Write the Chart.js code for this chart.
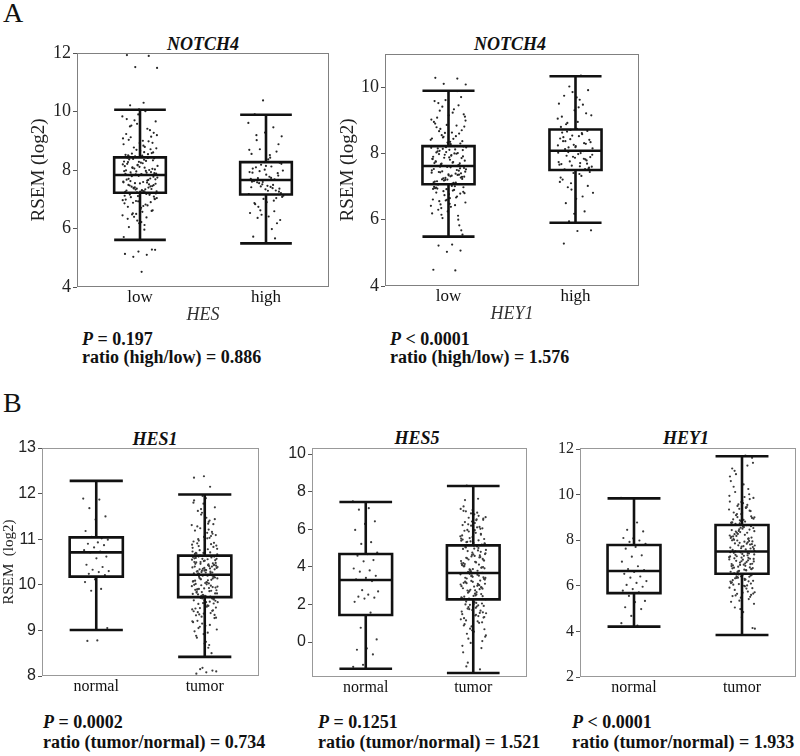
<!DOCTYPE html>
<html><head><meta charset="utf-8">
<script src="https://cdn.jsdelivr.net/npm/chart.js@4.4.0/dist/chart.umd.min.js"></script>
<style>
body{margin:0;background:#fff;width:800px;height:756px;position:relative;overflow:hidden;}
canvas{position:absolute;}
.t{position:absolute;white-space:nowrap;color:#111;font-family:"Liberation Serif",serif;}
.ttl{font-weight:bold;font-style:italic;font-size:18px;line-height:18px;transform:translateX(-50%);}
.st{font-weight:bold;font-size:18px;line-height:18px;}
.pl{font-size:28px;line-height:28px;}
</style></head><body>
<div class="t pl" style="left:3px;top:-1px">A</div>
<div class="t pl" style="left:3px;top:389px">B</div>
<div class="t ttl" style="left:203px;top:35px">NOTCH4</div>
<div class="t ttl" style="left:510px;top:35px">NOTCH4</div>
<div class="t ttl" style="left:155px;top:430px">HES1</div>
<div class="t ttl" style="left:417px;top:429px">HES5</div>
<div class="t ttl" style="left:686px;top:429px">HEY1</div>
<div class="t st" style="left:82px;top:330px"><i>P</i> = 0.197</div>
<div class="t st" style="left:82px;top:348px">ratio (high/low) = 0.886</div>
<div class="t st" style="left:390px;top:330px"><i>P</i> &lt; 0.0001</div>
<div class="t st" style="left:390px;top:348px">ratio (high/low) = 1.576</div>
<div class="t st" style="left:43px;top:713px"><i>P</i> = 0.0002</div>
<div class="t st" style="left:43px;top:733px">ratio (tumor/normal) = 0.734</div>
<div class="t st" style="left:318px;top:713px"><i>P</i> = 0.1251</div>
<div class="t st" style="left:318px;top:733px">ratio (tumor/normal) = 1.521</div>
<div class="t st" style="left:572px;top:713px"><i>P</i> &lt; 0.0001</div>
<div class="t st" style="left:572px;top:733px">ratio (tumor/normal) = 1.933</div>
<canvas id="cA1"></canvas>
<canvas id="cA2"></canvas>
<canvas id="cB1"></canvas>
<canvas id="cB2"></canvas>
<canvas id="cB3"></canvas>
<script>
// ---------- Panel A left: NOTCH4 by HES ----------
const A1_cats = ['low','high'];
const A1_yticks = [4,6,8,10,12];
const A1_lo  = [5.61, 5.49];
const A1_q1  = [7.22, 7.16];
const A1_med = [7.83, 7.66];
const A1_q3  = [8.43, 8.27];
const A1_hi  = [10.06, 9.89];
const A1_low = [9.83,8.61,9.12,8.93,10.07,8.52,9.41,8.77,9.66,8.49,9.03,8.71,9.58,8.88,10.01,8.56,9.27,8.66,9.74,8.98,8.47,9.19,8.83,9.49,8.58,9.9,
 8.13,7.91,8.38,8.02,7.86,8.27,8.44,7.95,8.19,8.08,7.84,8.33,8.11,7.99,8.41,8.05,7.88,8.23,8.36,7.93,8.16,8.29,7.97,8.09,8.4,7.83,8.21,
 7.51,7.33,7.74,7.28,7.62,7.45,7.8,7.25,7.57,7.39,7.68,7.31,7.49,7.71,7.36,7.6,7.23,7.43,7.77,7.54,7.3,7.66,7.41,7.27,7.59,7.47,7.35,
 7.11,6.86,7.18,6.52,7.02,6.71,6.33,7.15,6.94,6.45,5.96,7.07,6.62,6.18,6.99,6.79,6.4,7.2,6.57,6.05,6.9,6.27,5.71,6.82,6.48,7.09,6.66,
 11.93,11.9,11.52,11.49,10.3,10.21,5.28,5.21,5.13,5.1,5.03,5.27,4.52,
 8.5,9.36,8.69,9.08,8.79,9.52,8.6,8.92,9.23,8.54,9.7,8.74,9.0,8.46,9.14,
 8.18,7.96,8.31,8.07,7.89,8.25,8.42,8.0,7.85,8.14,8.35,7.92,8.04,8.28,7.87,
 7.64,7.37,7.53,7.29,7.7,7.44,7.24,7.58,7.34,7.79,7.48,7.26,7.67,7.4,7.55,
 7.04,6.77,7.16,6.6,6.93,7.12,6.38,6.88,7.0,6.22,6.74,7.19,6.5,6.97,6.12];
const A1_high = [9.61,8.42,9.02,8.88,9.28,8.55,9.46,8.71,9.15,8.36,9.9,8.63,10.38,
 7.93,8.12,7.72,8.25,7.84,8.05,7.68,8.18,7.98,7.77,8.09,7.89,8.27,7.7,
 7.38,7.55,7.21,7.46,7.62,7.3,7.51,7.18,7.42,7.58,7.26,7.34,7.6,
 6.95,6.62,7.08,6.41,6.83,6.18,7.01,6.53,5.98,6.74,6.29,6.9,5.72,5.66,6.47,7.12,
 8.51,9.19,7.81,8.01,7.41,7.49,7.96,8.21,7.29,6.87,7.04,7.59,8.69,7.73,6.36,7.36,8.14,7.91,6.59,7.44];

// ---------- Panel A right: NOTCH4 by HEY1 ----------
const A2_cats = ['low','high'];
const A2_yticks = [4,6,8,10];
const A2_lo  = [5.49, 5.91];
const A2_q1  = [7.07, 7.5];
const A2_med = [7.62, 8.08];
const A2_q3  = [8.22, 8.72];
const A2_hi  = [9.89, 10.33];
const A2_low = [8.41,9.23,8.67,9.7,8.33,8.95,8.52,9.41,8.81,8.28,9.08,8.6,9.61,8.45,9.33,8.74,8.37,9.15,8.9,9.88,8.5,8.99,8.63,9.52,8.3,8.86,
 7.9,8.12,7.69,8.21,7.81,8.03,7.65,7.96,8.17,7.74,8.08,7.86,8.24,7.71,7.99,8.14,7.78,7.93,8.06,7.64,8.19,7.84,8.0,7.67,8.1,7.88,7.76,
 7.35,7.18,7.52,7.09,7.44,7.27,7.59,7.13,7.39,7.22,7.56,7.31,7.07,7.48,7.2,7.42,7.11,7.6,7.29,7.37,7.15,7.5,7.25,7.45,7.33,7.06,7.55,
 6.92,6.61,7.01,6.35,6.84,6.48,6.97,6.12,6.74,6.42,6.88,6.56,5.68,6.25,6.99,6.67,6.05,6.8,6.39,6.94,5.83,6.58,6.19,6.9,6.46,5.55,6.77,
 10.28,10.26,10.1,10.08,5.25,5.22,5.07,5.03,4.49,4.47,
 8.55,9.18,8.35,8.79,9.45,8.62,9.02,8.44,9.29,8.7,8.31,9.58,8.84,8.48,9.11,
 7.95,8.15,7.7,8.04,7.83,8.22,7.66,7.91,8.11,7.75,8.01,7.87,8.18,7.72,7.98,
 7.4,7.21,7.53,7.12,7.46,7.3,7.58,7.16,7.36,7.26,7.49,7.08,7.43,7.23,7.34,
 6.95,6.7,6.86,6.52,7.02,6.3,6.79,6.6,6.93,6.44,6.15,6.98,6.65,6.82,6.0];
const A2_high = [9.05,9.62,8.88,9.91,9.3,8.8,9.47,10.02,9.15,8.95,9.74,9.21,9.85,9.5,10.35,8.92,
 8.41,8.22,8.63,8.31,8.71,8.15,8.52,8.37,8.68,8.26,8.45,8.58,8.18,8.34,8.74,8.49,
 7.82,7.63,8.02,7.71,7.93,7.55,7.87,7.68,8.07,7.76,7.6,7.98,7.52,7.79,7.9,7.66,
 7.32,6.98,7.44,6.63,7.21,6.25,7.1,6.81,7.38,6.5,7.02,6.18,7.27,6.7,5.95,
 5.68,5.66,5.28,
 8.29,8.54,7.74,8.01,8.66,7.57,8.19,9.11,7.84,8.43,7.96,9.39,8.13,7.69,7.41,7.14,8.61,8.04,7.89,9.69,8.37,7.53,6.91,8.24,7.61];

// ---------- Panel B: HES1 ----------
const B1_cats = ['normal','tumor'];
const B1_yticks = [8,9,10,11,12,13];
const B1_lo  = [9.01, 8.42];
const B1_q1  = [10.18, 9.73];
const B1_med = [10.71, 10.22];
const B1_q3  = [11.04, 10.64];
const B1_hi  = [12.28, 11.98];
const B1_normal = [11.89,11.87,11.68,11.5,11.43,11.18,11.02,11.05,10.99,10.93,10.9,10.87,10.82,10.76,10.73,10.71,10.62,10.58,10.44,10.39,10.33,10.3,10.28,10.24,10.21,10.12,10.06,9.91,9.87,9.05,8.78,8.77];
const B1_tumor = [11.31,10.78,11.62,10.92,11.05,11.85,10.71,11.24,10.86,11.47,10.69,11.12,11.95,10.81,11.38,10.97,11.7,10.74,11.19,10.89,11.54,10.67,11.02,11.28,10.83,11.78,10.95,11.41,10.76,11.09,11.9,10.7,11.16,11.58,10.88,11.34,11.0,
 10.44,10.31,10.58,10.26,10.5,10.37,10.63,10.29,10.47,10.35,10.61,10.41,10.24,10.54,10.33,10.46,10.6,10.28,10.39,10.56,10.3,10.43,10.52,10.25,10.36,10.64,10.42,10.32,10.49,10.27,10.57,10.38,10.45,10.62,10.34,10.53,10.4,
 9.98,10.12,9.81,10.05,9.9,10.19,9.77,10.08,9.86,10.15,9.94,9.75,10.02,10.21,9.84,9.97,10.1,9.79,10.17,9.92,10.0,9.74,10.13,9.88,10.06,9.83,9.95,10.2,9.8,10.03,9.91,10.16,9.76,10.09,9.87,9.99,10.14,
 9.55,9.21,9.68,8.92,9.42,9.63,9.08,9.5,8.75,9.33,9.7,9.15,9.46,8.62,9.58,9.27,9.66,8.98,9.38,9.71,9.02,9.52,8.84,9.44,9.6,9.18,8.68,9.35,9.65,9.1,9.48,8.5,9.3,9.62,8.95,9.4,9.69,
 12.38,12.35,12.15,8.15,8.1,8.08,8.05,8.12,8.18,
 10.73,11.21,10.85,11.44,10.98,10.68,11.07,11.66,10.79,11.14,10.91,11.33,10.7,11.8,11.03,
 10.34,10.48,10.27,10.59,10.4,10.31,10.55,10.43,10.25,10.62,10.37,10.5,10.29,10.46,10.57,
 10.01,9.85,10.14,9.78,10.07,9.93,10.18,9.81,10.04,9.89,10.11,9.76,9.96,10.2,9.9,
 9.59,9.37,9.66,9.12,9.49,9.28,9.62,8.88,9.43,9.7,9.2,9.54,9.05,9.34,8.71];

// ---------- Panel B: HES5 ----------
const B2_cats = ['normal','tumor'];
const B2_yticks = [0,2,4,6,8,10];
const B2_lo  = [-1.42, -1.65];
const B2_q1  = [1.44, 2.27];
const B2_med = [3.3, 3.67];
const B2_q3  = [4.68, 5.14];
const B2_hi  = [7.45, 8.3];
const B2_normal = [7.48,7.12,7.04,6.42,6.28,5.96,5.31,5.22,4.76,4.68,4.59,4.36,4.29,3.91,3.81,3.74,3.52,3.41,3.33,3.24,2.76,2.69,2.52,2.41,2.36,2.31,2.14,1.56,0.76,0.14,-0.34,-0.41,-0.66,-1.21,-1.32];
const B2_tumor = [5.62,6.48,5.31,6.05,7.02,5.45,6.71,5.88,5.22,6.33,7.55,5.71,6.19,5.39,6.88,5.96,6.57,5.27,7.21,6.12,5.53,6.64,5.81,6.95,5.18,6.41,5.67,7.62,6.26,5.48,6.79,5.92,6.02,5.35,7.08,6.53,8.32,
 4.42,3.88,4.95,4.12,3.71,4.68,4.27,5.06,3.95,4.55,4.18,3.79,4.84,4.35,5.12,4.02,4.61,3.84,4.9,4.23,4.48,3.68,4.75,4.08,5.0,4.39,3.92,4.58,4.15,4.8,3.75,4.31,5.09,4.45,3.99,4.66,4.2,
 3.02,2.71,3.41,2.48,3.18,2.89,3.55,2.33,3.09,2.62,3.36,2.95,2.41,3.27,2.78,3.6,2.53,3.13,2.84,3.47,2.29,3.04,2.68,3.32,2.57,3.22,2.92,3.51,2.37,2.99,2.74,3.44,2.45,3.15,2.81,3.63,2.27,
 1.82,1.15,2.05,0.62,1.48,1.95,0.18,1.33,2.12,0.95,1.67,-0.05,1.21,1.89,0.44,1.58,2.19,-0.55,1.02,1.75,0.28,1.41,2.0,-0.32,0.83,1.62,1.1,-1.1,1.92,0.55,1.27,-1.45,0.71,1.53,2.08,-1.3,0.05,
 5.58,6.22,5.41,6.61,5.25,5.95,6.38,5.76,6.84,5.5,6.1,5.33,6.5,5.85,6.98,
 4.5,3.86,4.72,4.25,5.03,3.97,4.63,4.1,4.87,3.73,4.33,4.97,4.05,4.52,3.81,
 3.06,2.65,3.38,2.44,3.2,2.86,3.53,2.31,3.1,2.75,3.42,2.55,3.25,2.97,3.58,
 1.78,1.3,2.02,0.88,1.55,1.98,0.35,1.45,2.15,1.05,1.7,-0.2,1.38,1.86,0.68];

// ---------- Panel B: HEY1 ----------
const B3_cats = ['normal','tumor'];
const B3_yticks = [2,4,6,8,10,12];
const B3_lo  = [4.21, 3.84];
const B3_q1  = [5.68, 6.53];
const B3_med = [6.65, 7.51];
const B3_q3  = [7.79, 8.67];
const B3_hi  = [9.84, 11.69];
const B3_normal = [9.86,8.78,8.46,8.39,8.08,8.1,7.99,7.93,7.84,7.71,7.63,7.34,7.28,7.06,6.86,6.74,6.69,6.61,6.53,6.41,6.36,6.21,6.13,6.04,5.96,5.86,5.79,5.71,5.56,5.34,5.29,5.06,4.98,4.68,4.36,4.26];
const B3_tumor = [9.35,8.82,10.12,9.05,9.68,8.76,11.28,9.51,8.95,10.45,9.22,9.81,8.88,10.8,9.42,9.1,11.62,9.74,8.79,10.25,9.58,9.01,9.9,11.05,9.28,8.85,10.6,9.46,9.15,11.4,9.63,8.92,10.02,9.38,9.95,11.72,8.72,
 8.12,7.72,8.45,7.91,8.28,7.62,8.58,8.02,7.81,8.36,7.68,8.66,8.19,7.95,8.51,7.58,8.08,8.41,7.77,8.24,7.86,8.62,7.65,8.15,8.33,7.99,8.54,7.74,8.05,8.47,7.89,8.21,7.6,8.38,7.83,8.68,8.0,
 7.12,6.84,7.38,6.71,7.21,6.95,7.47,6.62,7.05,7.3,6.78,7.15,6.9,7.42,6.66,7.26,6.99,7.51,6.74,7.08,6.87,7.34,6.6,7.18,6.93,7.45,6.81,7.02,7.29,6.69,7.1,6.97,7.4,6.77,7.23,6.64,7.53,
 6.31,5.82,6.45,5.48,6.12,6.52,5.65,6.22,4.85,6.05,6.4,5.35,5.92,6.28,5.58,6.48,4.62,6.15,5.75,6.36,5.21,6.0,6.55,5.52,4.98,6.19,5.88,6.42,4.15,5.7,6.25,5.42,6.08,4.12,5.98,6.33,5.6,
 9.15,8.78,9.55,9.02,9.86,8.9,10.35,9.3,8.74,9.7,9.44,10.9,8.98,9.2,11.15,
 8.06,7.78,8.4,7.94,8.27,7.64,8.55,8.1,7.85,8.33,7.7,8.6,8.17,7.97,8.48,
 7.16,6.88,7.36,6.73,7.24,6.96,7.44,6.63,7.07,7.32,6.8,7.19,6.92,7.48,6.68,
 6.35,5.9,6.47,5.55,6.2,6.5,5.72,6.26,5.05,6.1,6.42,5.3,6.02,6.38,5.66];

// deterministic horizontal jitter (layout only)
const jit = i => (((i * 0.6180339887) % 1) - 0.5) * 2;
const GAP = {x: null, y: null};

function makeChart(id, g) {
  const cv = document.getElementById(id);
  cv.width = g.w; cv.height = g.h;
  cv.style.left = g.x0 + 'px'; cv.style.top = g.y0 + 'px';
  const ds = [];
  const seg = [];
  for (let k = 0; k < g.cats.length; k++) {
    const x = k + 1, w = g.bw;
    seg.push({x:x-w,y:g.q1[k]},{x:x+w,y:g.q1[k]},{x:x+w,y:g.q3[k]},{x:x-w,y:g.q3[k]},{x:x-w,y:g.q1[k]},{x:x+w,y:g.q1[k]},GAP,
      {x:x-w,y:g.med[k]},{x:x+w,y:g.med[k]},GAP,
      {x:x,y:g.q3[k]},{x:x,y:g.hi[k]},GAP,
      {x:x-w,y:g.hi[k]},{x:x+w,y:g.hi[k]},GAP,
      {x:x,y:g.q1[k]},{x:x,y:g.lo[k]},GAP,
      {x:x-w,y:g.lo[k]},{x:x+w,y:g.lo[k]},GAP);
  }
  ds.push({data: seg, showLine: true, borderColor: '#111', borderWidth: 2.6, pointRadius: 0,
    borderJoinStyle: 'miter', borderCapStyle: 'butt', spanGaps: false, order: 0});
  g.groups.forEach((vals, k) => {
    ds.push({data: vals.map((v, i) => ({x: k + 1 + jit(i) * g.jit, y: v})), showLine: false,
      pointRadius: 1.1, pointBackgroundColor: g.pc, pointBorderWidth: 0, order: 1});
  });
  const frame = {id: 'frame', beforeDatasetsDraw(c) {
    const a = c.chartArea, ctx = c.ctx; ctx.save(); ctx.strokeStyle = g.fc; ctx.lineWidth = 1;
    ctx.strokeRect(a.left + 0.5, a.top + 0.5, a.width - 1, a.height - 1); ctx.restore(); }};
  new Chart(cv, {
    type: 'scatter',
    data: {datasets: ds},
    plugins: [frame],
    options: {
      responsive: false, animation: false, events: [],
      layout: {padding: {left: 0, top: g.T - g.y0, right: g.x0 + g.w - g.R, bottom: g.y0 + g.h - g.B - g.xh}},
      plugins: {legend: {display: false}, tooltip: {enabled: false}},
      scales: {
        x: {type: 'linear', min: 0.5, max: 2.5,
          afterBuildTicks: s => { s.ticks = g.cats.map((c, i) => ({value: i + 1})); },
          afterFit: s => { s.height = g.xh; },
          ticks: {callback: (v, i) => g.cats[i], font: {family: 'Liberation Serif', size: g.xfs}, color: '#111', padding: g.xpad, maxRotation: 0, autoSkip: false},
          grid: {display: false, drawTicks: false}, border: {display: false},
          title: g.xtitle ? {display: true, text: g.xtitle, color: '#333', font: {family: 'Liberation Serif', size: 18, style: 'italic'}, padding: {top: 0, bottom: 1}} : {display: false}
        },
        y: {type: 'linear', min: g.ymin, max: g.ymax,
          afterBuildTicks: s => { s.ticks = g.yticks.map(v => ({value: v})); },
          afterFit: s => { s.width = g.L - g.x0; },
          ticks: {font: {family: g.yfam, size: g.yfs}, color: '#222', padding: 2},
          grid: {display: true, drawOnChartArea: false, drawTicks: true, tickLength: 4, color: '#555'},
          border: {display: false},
          title: g.ytitle ? {display: true, text: g.ytitle, color: '#222', font: {family: g.ytfam, size: g.ytfs}, padding: {top: g.ytpad, bottom: 0}} : {display: false}
        }
      }
    }
  });
}

makeChart('cA1', {x0:0, y0:30, w:335, h:300, L:77, R:329, T:53, B:287, xh:40,
  cats:A1_cats, groups:[A1_low, A1_high], lo:A1_lo, q1:A1_q1, med:A1_med, q3:A1_q3, hi:A1_hi,
  ymin:4, ymax:12, yticks:A1_yticks, bw:0.205, jit:0.14, pc:'#262626', fc:'#808080',
  xfs:17, xpad:0, xtitle:'HES', yfam:'Liberation Serif', yfs:18, ytitle:'RSEM (log2)', ytfam:'Liberation Serif', ytfs:19, ytpad:28});
makeChart('cA2', {x0:330, y0:30, w:315, h:300, L:385, R:639, T:54, B:286, xh:40,
  cats:A2_cats, groups:[A2_low, A2_high], lo:A2_lo, q1:A2_q1, med:A2_med, q3:A2_q3, hi:A2_hi,
  ymin:4, ymax:11, yticks:A2_yticks, bw:0.205, jit:0.14, pc:'#262626', fc:'#808080',
  xfs:17, xpad:0, xtitle:'HEY1', yfam:'Liberation Serif', yfs:18, ytitle:'RSEM (log2)', ytfam:'Liberation Serif', ytfs:19, ytpad:7});
makeChart('cB1', {x0:0, y0:425, w:265, h:285, L:42, R:259, T:448, B:676, xh:30,
  cats:B1_cats, groups:[B1_normal, B1_tumor], lo:B1_lo, q1:B1_q1, med:B1_med, q3:B1_q3, hi:B1_hi,
  ymin:8, ymax:13, yticks:B1_yticks, bw:0.245, jit:0.12, pc:'#3c3c3c', fc:'#999',
  xfs:16, xpad:1, xtitle:null, yfam:'Liberation Sans', yfs:16, ytitle:'RSEM  (log2)', ytfam:'Liberation Serif', ytfs:15, ytpad:0});
makeChart('cB2', {x0:270, y0:425, w:263, h:285, L:312, R:527, T:448, B:677, xh:30,
  cats:B2_cats, groups:[B2_normal, B2_tumor], lo:B2_lo, q1:B2_q1, med:B2_med, q3:B2_q3, hi:B2_hi,
  ymin:-1.86, ymax:10.32, yticks:B2_yticks, bw:0.245, jit:0.12, pc:'#3c3c3c', fc:'#999',
  xfs:16, xpad:1, xtitle:null, yfam:'Liberation Sans', yfs:16, ytitle:null});
makeChart('cB3', {x0:540, y0:425, w:260, h:285, L:580, R:798, T:448, B:677, xh:30,
  cats:B3_cats, groups:[B3_normal, B3_tumor], lo:B3_lo, q1:B3_q1, med:B3_med, q3:B3_q3, hi:B3_hi,
  ymin:2, ymax:12.05, yticks:B3_yticks, bw:0.245, jit:0.12, pc:'#3c3c3c', fc:'#999',
  xfs:16, xpad:1, xtitle:null, yfam:'Liberation Serif', yfs:16, ytitle:null});
</script>
</body></html>
